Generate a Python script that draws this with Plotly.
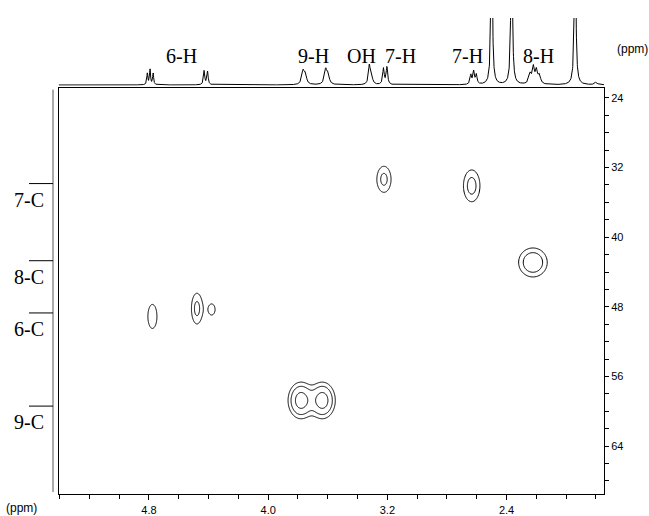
import numpy as np
import plotly.graph_objects as go

# ---------------- data ----------------
# 1D proton projection (top): line positions (ppm), relative heights, half-widths (ppm)
h_ppm = [4.811, 4.793, 4.772, 4.430, 4.407, 3.766, 3.750, 3.614, 3.598,
         3.321, 3.306, 3.226, 3.203, 2.640, 2.621, 2.603, 2.500, 2.366,
         2.242, 2.220, 2.200, 2.180, 1.940, 1.800]
h_height = [0.17, 0.23, 0.17, 0.21, 0.20, 0.20, 0.14, 0.22, 0.14,
            0.28, 0.10, 0.24, 0.26, 0.14, 0.19, 0.14, 3.0, 3.0,
            0.15, 0.24, 0.19, 0.13, 3.0, 0.04]
h_hwhm = [0.004, 0.004, 0.004, 0.005, 0.005, 0.010, 0.009, 0.010, 0.009,
          0.007, 0.010, 0.006, 0.006, 0.006, 0.006, 0.006, 0.005, 0.005,
          0.010, 0.008, 0.008, 0.010, 0.005, 0.010]

# 2D cross peaks: 1H shift, 13C shift, amplitude, widths (sigma) in ppm
c_h = [4.777, 4.478, 4.379, 3.223, 2.634, 2.223, 3.780, 3.636]
c_c = [49.1, 48.2, 48.3, 33.35, 34.1, 42.9, 58.75, 58.75]
c_amp = [1.8, 2.4, 1.3, 2.4, 2.6, 3.6, 5.45, 5.45]
c_wh = [0.028, 0.028, 0.031, 0.036, 0.040, 0.060, 0.047, 0.047]
c_wc = [1.27, 1.33, 0.87, 1.13, 1.32, 1.04, 1.14, 1.14]
contour_levels = [1, 2, 4]

top_labels = ["6-H", "9-H", "OH", "7-H", "7-H", "8-H"]
top_label_ppm = [4.585, 3.693, 3.377, 3.109, 2.659, 2.183]

left_labels = ["7-C", "8-C", "6-C", "9-C"]
left_label_ppm = [33.84, 42.7, 48.7, 59.4]

x_range = [5.406, 1.746]
y_range = [69.54, 22.856]
x_major = [4.8, 4.0, 3.2, 2.4]
y_major = [24, 32, 40, 48, 56, 64]

W, H = 649, 516
def px(v):
    return v / W
def py(v):
    return 1 - v / H

fig = go.Figure()

# ---------------- contours ----------------
def surface(gx, gy):
    X, Y = np.meshgrid(gx, gy)
    Z = np.zeros_like(X)
    for a, xh, yc, sh, sc in zip(c_amp, c_h, c_c, c_wh, c_wc):
        Z += a * np.exp(-((X - xh) ** 2) / (2 * sh ** 2) - ((Y - yc) ** 2) / (2 * sc ** 2))
    return Z

boxes = [[c_h[i] - 5 * c_wh[i], c_h[i] + 5 * c_wh[i], c_c[i] - 5 * c_wc[i], c_c[i] + 5 * c_wc[i]]
         for i in range(len(c_h))]
merged = True
while merged:
    merged = False
    for i in range(len(boxes)):
        for j in range(i + 1, len(boxes)):
            a, b = boxes[i], boxes[j]
            if a[0] < b[1] and b[0] < a[1] and a[2] < b[3] and b[2] < a[3]:
                boxes[i] = [min(a[0], b[0]), max(a[1], b[1]), min(a[2], b[2]), max(a[3], b[3])]
                boxes.pop(j)
                merged = True
                break
        if merged:
            break

lv = np.log2(contour_levels)
for bx in boxes:
    gx = np.linspace(bx[0], bx[1], 170)
    gy = np.linspace(bx[2], bx[3], 170)
    Z = np.log2(surface(gx, gy) + 1e-6)
    fig.add_trace(go.Contour(
        x=np.round(gx, 5), y=np.round(gy, 4), z=np.round(Z, 4),
        autocontour=False,
        contours=dict(start=float(lv[0]), end=float(lv[-1]), size=float(lv[1] - lv[0]),
                      coloring="lines", showlabels=False),
        line=dict(width=1, smoothing=0.8),
        colorscale=[[0, "black"], [1, "black"]],
        showscale=False, hoverinfo="skip", xaxis="x", yaxis="y"))

# ---------------- 1D projection ----------------
sx = np.linspace(x_range[1], x_range[0], 3700)
sy = np.zeros_like(sx)
for p, hgt, w in zip(h_ppm, h_height, h_hwhm):
    sy += hgt / (1 + ((sx - p) / w) ** 2)
fig.add_trace(go.Scatter(x=sx, y=sy, mode="lines", line=dict(color="black", width=1),
                         hoverinfo="skip", showlegend=False, xaxis="x", yaxis="y2"))

tickfont = dict(family="Liberation Sans, Arial, sans-serif", size=11, color="black")
serif = dict(family="Liberation Serif, Times New Roman, serif", size=20, color="black")

fig.update_layout(
    width=W, height=H, autosize=False,
    margin=dict(l=0, r=0, t=0, b=0),
    paper_bgcolor="white", plot_bgcolor="white",
    showlegend=False,
    xaxis=dict(domain=[px(58.7), px(604)], range=x_range, anchor="y",
               tickmode="array", tickvals=x_major, ticktext=[f"{v:.1f}" for v in x_major],
               ticks="outside", ticklen=5, tickcolor="black", tickwidth=1,
               minor=dict(dtick=0.2, tick0=0, ticks="outside", ticklen=4, tickcolor="black"),
               showline=True, linecolor="black", linewidth=1, mirror=True,
               showgrid=False, zeroline=False, tickfont=tickfont),
    yaxis=dict(domain=[py(496.3), py(88.3)], range=y_range, anchor="x", side="right",
               tickmode="array", tickvals=y_major, ticktext=[str(v) for v in y_major],
               ticks="outside", ticklen=4, tickcolor="black", tickwidth=1,
               minor=dict(dtick=2, tick0=0, ticks="outside", ticklen=4, tickcolor="black"),
               showline=True, linecolor="black", linewidth=1, mirror=True,
               showgrid=False, zeroline=False, tickfont=tickfont),
    yaxis2=dict(domain=[py(86), py(18)], range=[-0.01, 1.0], anchor="x", visible=False,
                showgrid=False, zeroline=False),
)

shapes = [dict(type="line", xref="paper", yref="paper", x0=px(53), x1=px(53),
               y0=py(90), y1=py(494), line=dict(color="#555555", width=1))]
for v in left_label_ppm:
    shapes.append(dict(type="line", xref="paper", yref="y", x0=px(29), x1=px(53),
                       y0=v, y1=v, line=dict(color="black", width=1)))
fig.update_layout(shapes=shapes)

ann = []
for t, v in zip(top_labels, top_label_ppm):
    ann.append(dict(text=t, x=v, xref="x", y=py(56), yref="paper", showarrow=False,
                    xanchor="center", yanchor="middle", font=serif))
for t, v in zip(left_labels, left_label_ppm):
    ann.append(dict(text=t, x=px(46), xref="paper", y=v, yref="y", showarrow=False,
                    xanchor="right", yanchor="top", yshift=-3, font=serif))
ann.append(dict(text="(ppm)", x=px(632), xref="paper", y=py(49), yref="paper",
                showarrow=False, xanchor="center", yanchor="middle",
                font=dict(family="Liberation Sans, Arial, sans-serif", size=12, color="black")))
ann.append(dict(text="(ppm)", x=px(21), xref="paper", y=py(510), yref="paper",
                showarrow=False, xanchor="center", yanchor="middle",
                font=dict(family="Liberation Sans, Arial, sans-serif", size=12, color="black")))
fig.update_layout(annotations=ann)

fig.write_html("out.html", config={"displayModeBar": False},
               post_script="document.body.style.margin='0px';document.body.style.overflow='hidden';")
